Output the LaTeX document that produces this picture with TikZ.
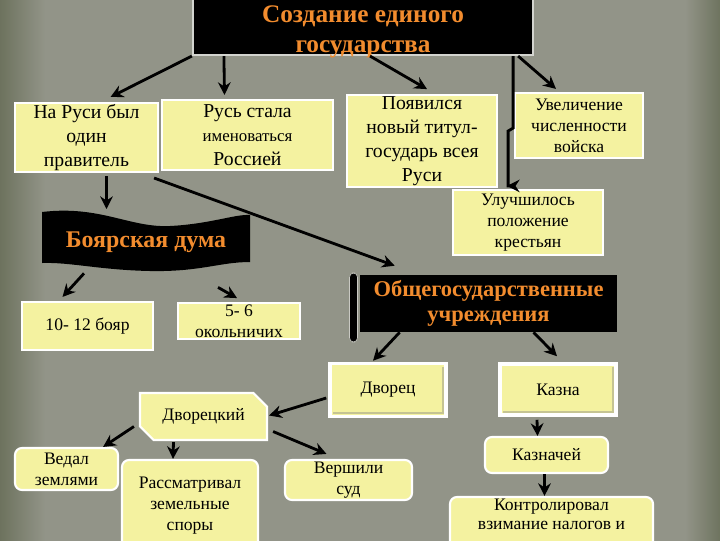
\documentclass[tikz,border=0pt]{standalone}
\usepackage{fontspec}
\setmainfont{Liberation Serif}
\usetikzlibrary{arrows.meta,shapes.misc,calc}
\definecolor{bg}{RGB}{146,148,136}
\definecolor{bgdark}{RGB}{104,110,88}
\definecolor{pale}{RGB}{244,242,160}
\definecolor{flame}{RGB}{242,140,46}
\begin{document}
\begin{tikzpicture}[x=0.025cm,y=-0.025cm,
box/.style={draw=white,line width=1.5pt,fill=pale,align=center,inner sep=1pt,font=\fontsize{14}{17}\selectfont},
sbox/.style={box,font=\fontsize{12.5}{15}\selectfont},
rbox/.style={sbox,rounded corners=5pt},
bevel/.style={sbox,line width=2.5pt},
dark/.style={fill=black,align=center,text=flame,font=\bfseries\fontsize{16}{18}\selectfont},
arr/.style={-{Stealth[length=9pt,width=9pt,inset=3pt]},line width=2pt}]
\useasboundingbox (0,0) rectangle (720,540);
\clip (-6,-6) rectangle (726,546);
\fill[bg] (-6,-6) rectangle (726,546);
\shade[left color=bgdark,right color=bg] (-6,-6) rectangle (45,546);
\shade[left color=bg,right color=bgdark] (685,-6) rectangle (726,546);

\node[fill=black,draw=bg!40!white,line width=1.5pt,minimum width=8.5cm,minimum height=1.4cm] (title) at (363,27) {};
\node[dark,fill=none,font=\bfseries\fontsize{18}{21}\selectfont] (titletext) at ($(title)+(0,5)$) {Создание единого\\государства};

\node[box,minimum width=3.575cm,minimum height=1.625cm] (odin) at (86.5,137.5) {На Руси был\\один\\правитель};
\node[box,minimum width=4.275cm,minimum height=1.75cm] (rus) at (247.5,135) {Русь стала\\{\fontsize{12}{17}\selectfont именоваться}\\Россией};
\node[box,minimum width=3.75cm,minimum height=2.05cm,text depth=3pt] (titul) at (422,141) {Появился\\новый титул-\\государь всея\\Руси};
\node[sbox,minimum width=3.2cm,minimum height=1.625cm] (voisko) at (579,125.5) {Увеличение\\численности\\войска};
\node[sbox,minimum width=3.75cm,minimum height=1.625cm] (krest) at (528,222.5) {Улучшилось\\положение\\крестьян};

\fill (42,212) .. controls (100,205) and (130,228) .. (170,226) .. controls (210,224) and (235,214) .. (250,215)
  -- (250,262) .. controls (220,262) and (200,272) .. (150,271) .. controls (100,270) and (70,262) .. (42,263) -- cycle;
\node[dark,font=\bfseries\fontsize{17}{20}\selectfont] (duma) at (146,242) {Боярская дума};

\node[sbox,minimum width=3.275cm,minimum height=1.2cm] (boyar) at (87.5,326) {10- 12 бояр};
\node[sbox,minimum width=3.05cm,minimum height=0.875cm] (okol) at (239,321) {5- 6\\окольничих};

\draw[fill=black,draw=bg!50!white,rounded corners=3pt] (349.5,273) rectangle (357.5,342);
\node[dark,minimum width=6.425cm,minimum height=1.425cm] (uchr) at (488.5,303.5) {Общегосударственные\\учреждения};

\node[bevel,minimum width=2.9cm,minimum height=1.325cm] (dvorec) at (388,390) {Дворец};
\node[bevel,minimum width=2.9cm,minimum height=1.275cm] (kazna) at (558,389.5) {Казна};
\foreach \n in {dvorec,kazna}
  \draw[line width=1.5pt,draw=pale!60!gray] ([shift={(5,-5)}]\n.south west) -- ([shift={(-5,-5)}]\n.south east) -- ([shift={(-5,5)}]\n.north east);

\node[sbox,chamfered rectangle,chamfered rectangle corners={south west,north east},chamfered rectangle xsep=8pt,minimum width=3.175cm,minimum height=1.175cm] (dvoreckiy) at (203.5,416.5) {Дворецкий};
\node[rbox,minimum width=2.575cm,minimum height=1.05cm] (vedal) at (66.5,469) {Ведал\\землями};
\node[rbox,minimum width=3.4cm,minimum height=2.3cm] (spory) at (190,506) {Рассматривал\\земельные\\споры};
\node[rbox,minimum width=3.175cm,minimum height=1cm] (sud) at (348.5,480) {Вершили\\суд};
\node[rbox,minimum width=3.075cm,minimum height=0.9cm] (kaznachey) at (546.5,455) {Казначей};
\node[rbox,minimum width=5.075cm,minimum height=1.5cm,font=\fontsize{12.5}{14}\selectfont] (kontrol) at (551.5,527) {Контролировал\\взимание налогов и\\\strut};

\draw[arr] (title.south west) -- ($(odin.north)+(24,-5)$);
\draw[arr] ($(title.south west)+(32,0)$) -- ($(rus.north)+(-23,-4)$);
\draw[arr] ($(title.south)+(7,0)$) -- ($(titul.north)+(5,-5)$);
\draw[arr] ($(title.south east)+(-16,0)$) -- ($(voisko.north)+(-23,-3)$);
\draw[arr] ($(title.south east)+(-21,0)$) -- ++(0,72) -- ++(-5,3) |- ($(krest.north)+(-21,-3)$);
\draw[arr] ($(odin.south)+(20,3)$) -- ($(odin.south)+(20,36)$);
\draw[arr] ($(odin.south east)+(-5,5)$) -- ($(uchr.north west)+(35,-9)$);
\draw[arr] ($(duma.south)+(-62,16)$) -- ($(boyar.north)+(-25,-4)$);
\draw[arr] ($(duma.south)+(72,30)$) -- ($(okol.north)+(-2,-4)$);
\draw[arr] ($(uchr.south west)+(40,0)$) -- ($(dvorec.north)+(-15,-1)$);
\draw[arr] ($(uchr.south)+(45,0)$) -- ($(kazna.north)+(-1,-6)$);
\draw[arr] ($(dvorec.west)+(-2,8)$) -- ($(dvoreckiy.east)+(1,-1)$);
\draw[arr] ($(dvoreckiy.west)+(-5,10)$) -- ($(vedal.north east)+(-16,0)$);
\draw[arr] ($(dvoreckiy.south)+(-30,1)$) -- ($(spory.north)+(-17,0)$);
\draw[arr] ($(dvoreckiy.east)+(5,15)$) -- ($(sud.north)+(-22,-5)$);
\draw[arr] ($(kazna.south)+(-21,3)$) -- ($(kaznachey.north)+(-9,0)$);
\draw[arr] ($(kaznachey.south)+(-2,0)$) -- ($(kontrol.north)+(-7,0)$);
\end{tikzpicture}
\end{document}
